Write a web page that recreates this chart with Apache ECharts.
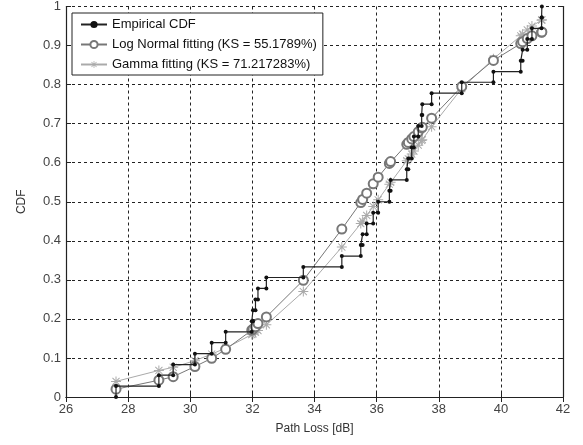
<!DOCTYPE html>
<html>
<head>
<meta charset="utf-8">
<script src="https://cdn.jsdelivr.net/npm/echarts@6/dist/echarts.min.js"></script>
<style>
  html, body { margin: 0; padding: 0; background: #fff; }
  #myChart { width: 583px; height: 445px; }
</style>
</head>
<body>
<div id="myChart"></div>
<script>
// measured path loss samples (dB), sorted
var pathLoss = [27.61, 28.99, 29.45, 30.15, 30.69, 31.14, 31.98, 32.02, 32.10, 32.18,
  32.45, 33.64, 34.88, 35.49, 35.55, 35.68, 35.89, 36.05, 36.41, 36.45,
  36.97, 37.02, 37.13, 37.20, 37.34, 37.45, 37.47, 37.77, 38.74, 39.76,
  40.64, 40.70, 40.85, 41.00, 41.31, 41.32];
// empirical CDF level after each sample
var ecdf = [0.028, 0.056, 0.083, 0.111, 0.139, 0.167, 0.194, 0.222, 0.250, 0.278,
  0.306, 0.333, 0.361, 0.389, 0.417, 0.444, 0.472, 0.500, 0.528, 0.556,
  0.583, 0.611, 0.639, 0.667, 0.694, 0.722, 0.750, 0.778, 0.806, 0.833,
  0.861, 0.889, 0.917, 0.944, 0.972, 1.000];
// fitted CDFs at the same samples
var logNormalCdf = [0.020, 0.043, 0.052, 0.078, 0.099, 0.122, 0.171, 0.174, 0.180, 0.188,
  0.205, 0.299, 0.430, 0.498, 0.506, 0.522, 0.546, 0.563, 0.598, 0.603,
  0.647, 0.652, 0.661, 0.667, 0.679, 0.689, 0.691, 0.714, 0.795, 0.862,
  0.905, 0.910, 0.918, 0.925, 0.934, 0.935];
var gammaCdf = [0.040, 0.068, 0.076, 0.093, 0.110, 0.125, 0.160, 0.162, 0.166, 0.170,
  0.185, 0.270, 0.384, 0.444, 0.450, 0.465, 0.488, 0.505, 0.545, 0.550,
  0.605, 0.610, 0.622, 0.630, 0.645, 0.657, 0.659, 0.692, 0.790, 0.866,
  0.925, 0.929, 0.940, 0.950, 0.965, 0.966];
var xTicks = [26, 28, 30, 32, 34, 36, 38, 40, 42];
var seriesNames = ["Empirical CDF", "Log Normal fitting (KS = 55.1789%)", "Gamma fitting (KS = 71.217283%)"];

// stairs: vertical jump at each sample
var stairs = [];
var prev = 0;
for (var i = 0; i < pathLoss.length; i++) {
  stairs.push([pathLoss[i], prev]);
  stairs.push([pathLoss[i], ecdf[i]]);
  prev = ecdf[i];
}
function pairs(ys) {
  return pathLoss.map(function (x, k) { return [x, ys[k]]; });
}

// asterisk marker like matlab '*'
var starPath = "path://M-1,-10L1,-10L1,10L-1,10Z M-10,-1L10,-1L10,1L-10,1Z " +
  "M-7.8,-6.4L-6.4,-7.8L7.8,6.4L6.4,7.8Z M6.4,-7.8L7.8,-6.4L-6.4,7.8L-7.8,6.4Z";

var font = "Liberation Sans";
var gridLine = { show: true, lineStyle: { color: "#222", type: [3, 3], width: 1 } };
var axisLine = { show: true, lineStyle: { color: "#222", width: 1.2 } };
var tick = { show: true, inside: true, length: 5, lineStyle: { color: "#222" } };

var myChart = echarts.init(document.getElementById("myChart"));
myChart.setOption({
  animation: false,
  backgroundColor: "#fff",
  grid: { left: 66, right: 20, top: 6, bottom: 48 },
  legend: {
    orient: "vertical",
    left: 72,
    top: 13,
    data: seriesNames,
    backgroundColor: "#fff",
    borderColor: "#222",
    borderWidth: 1,
    padding: [5, 6, 4, 8],
    itemGap: 7,
    itemWidth: 26,
    itemHeight: 9,
    textStyle: { fontFamily: font, fontSize: 13, color: "#111" }
  },
  xAxis: [
    {
      type: "value", min: 26, max: 42, interval: 2,
      name: "Path Loss [dB]", nameLocation: "middle", nameGap: 26,
      nameTextStyle: { fontFamily: font, fontSize: 12, color: "#333" },
      axisLine: axisLine, axisTick: tick, splitLine: gridLine,
      axisLabel: {
        fontFamily: font, fontSize: 13, color: "#444", margin: 6,
        formatter: function (v) { return xTicks.indexOf(v) >= 0 ? String(v) : ""; }
      }
    },
    {
      type: "value", position: "top", min: 26, max: 42, interval: 2,
      axisLine: axisLine, axisTick: tick, splitLine: { show: false },
      axisLabel: { show: false }
    }
  ],
  yAxis: [
    {
      type: "value", min: 0, max: 1, interval: 0.1,
      name: "CDF", nameLocation: "middle", nameGap: 38, nameRotate: 90,
      nameTextStyle: { fontFamily: font, fontSize: 12, color: "#333" },
      axisLine: axisLine, axisTick: tick, splitLine: gridLine,
      axisLabel: {
        fontFamily: font, fontSize: 13, color: "#444", margin: 5,
        formatter: function (v) { return String(Math.round(v * 10) / 10); }
      }
    },
    {
      type: "value", position: "right", min: 0, max: 1, interval: 0.1,
      axisLine: axisLine, axisTick: tick, splitLine: { show: false },
      axisLabel: { show: false }
    }
  ],
  series: [
    {
      name: seriesNames[0],
      type: "line",
      data: stairs,
      symbol: "circle",
      symbolSize: 4,
      showAllSymbol: true,
      lineStyle: { color: "#222", width: 1.2 },
      itemStyle: { color: "#111" },
      z: 4
    },
    {
      name: seriesNames[1],
      type: "line",
      data: pairs(logNormalCdf),
      symbol: "emptyCircle",
      symbolSize: 9,
      showAllSymbol: true,
      lineStyle: { color: "#777", width: 1 },
      itemStyle: { color: "#777", borderColor: "#777", borderWidth: 0.9 },
      z: 3
    },
    {
      name: seriesNames[2],
      type: "line",
      data: pairs(gammaCdf),
      symbol: starPath,
      symbolSize: 10,
      showAllSymbol: true,
      lineStyle: { color: "#aaa", width: 1 },
      itemStyle: { color: "#aaa" },
      z: 2
    }
  ]
});
window.addEventListener("resize", function () {
  myChart.resize();
});
</script>
</body>
</html>
